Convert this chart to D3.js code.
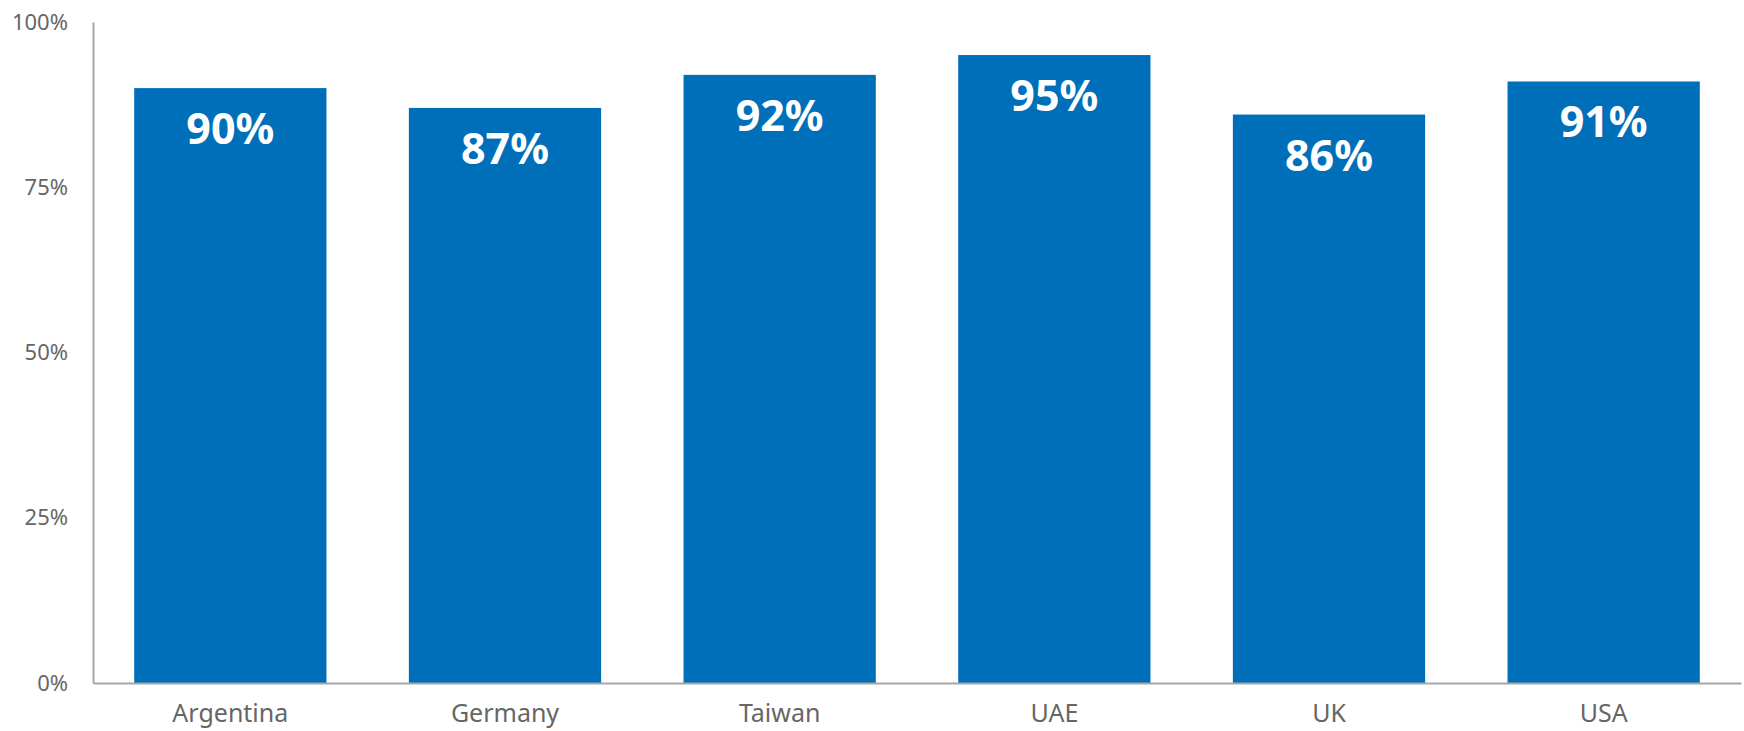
<!DOCTYPE html>
<html>
<head>
<meta charset="utf-8">
<script src="https://cdn.jsdelivr.net/npm/d3@7"></script>
<style>
  body { margin: 0; background: #fff; }
  text { font-family: "Noto Sans", sans-serif; }
</style>
</head>
<body>
<div id="wrapper"></div>
<script>
// data
const countries = ["Argentina", "Germany", "Taiwan", "UAE", "UK", "USA"];
const shares = [90, 87, 92, 95, 86, 91];
const yTicks = [0, 25, 50, 75, 100];

const width = 1744, height = 731;
const margin = { top: 22, right: 3, bottom: 48, left: 93 };

const svg = d3.select("#wrapper").append("svg")
  .attr("width", width)
  .attr("height", height);

const x = d3.scaleBand()
  .domain(countries)
  .range([margin.left, width - margin.right])
  .paddingInner(0.3)
  .paddingOuter(0.15);

const y = d3.scaleLinear()
  .domain([0, 100])
  .range([height - margin.bottom, margin.top]);

// bars
svg.selectAll(".bar")
  .data(countries)
  .enter().append("rect")
  .attr("class", "bar")
  .attr("x", d => x(d))
  .attr("width", x.bandwidth())
  .attr("y", (d, i) => y(shares[i]))
  .attr("height", (d, i) => y(0) - y(shares[i]))
  .attr("fill", "#006fba");

// value labels
svg.selectAll(".val")
  .data(countries)
  .enter().append("text")
  .attr("class", "val")
  .attr("x", d => x(d) + x.bandwidth() / 2)
  .attr("y", (d, i) => y(shares[i]) + 56)
  .attr("text-anchor", "middle")
  .attr("fill", "#fff")
  .style("font-size", "43px")
  .style("font-weight", "bold")
  .text((d, i) => shares[i] + "%");

// y axis
const yAxis = svg.append("g")
  .attr("transform", `translate(${margin.left},0)`)
  .call(d3.axisLeft(y).tickValues(yTicks).tickSize(0).tickPadding(25).tickFormat(d => d + "%"));
yAxis.select(".domain").attr("stroke", "#a6a6a6").attr("stroke-width", 2);
yAxis.selectAll("text")
  .attr("fill", "#666")
  .style("font-size", "22px")
  .style("font-family", "'Noto Sans', sans-serif");

// x axis
const xAxis = svg.append("g")
  .attr("transform", `translate(0,${y(0)})`)
  .call(d3.axisBottom(x).tickSize(0).tickPadding(21));
xAxis.select(".domain").attr("stroke", "#a6a6a6").attr("stroke-width", 2);
xAxis.selectAll("text")
  .attr("fill", "#666")
  .style("font-size", "25px")
  .style("font-family", "'Noto Sans', sans-serif");
</script>
</body>
</html>
